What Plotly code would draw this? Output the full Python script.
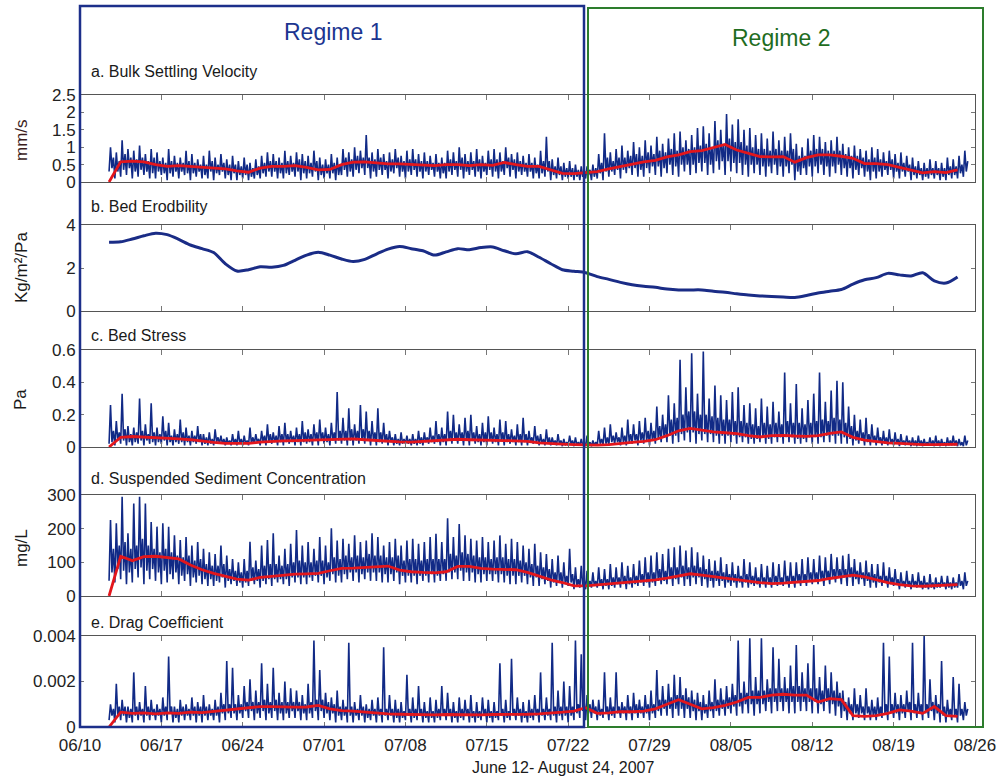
import pandas as pd
import plotly.graph_objects as go

W, H = 1001, 776

# Sampling: 3-hourly records from 2007-06-12 12:00, daily running means
SAMPLE_START = "2007-06-12 12:00"

# a. Bulk settling velocity (mm/s), 8 samples per day
settling_velocity = [
    0.3, 1.0, 0.4, 0.7, 0.1, 0.85, 0.3, 0.6,   0.15, 1.2, 0.35, 0.8, 0.2, 0.95, 0.4, 0.7,
    0.1, 0.9, 0.3, 0.65, 0.15, 1.05, 0.35, 0.7,   0.2, 0.8, 0.3, 0.6, 0.1, 0.95, 0.25, 0.7,
    0.1, 0.85, 0.3, 0.6, 0.2, 0.7, 0.25, 0.55,   0.05, 0.95, 0.25, 0.6, 0.15, 0.75, 0.3, 0.55,
    0.1, 0.7, 0.3, 0.55, 0.2, 0.9, 0.25, 0.6,   0.05, 0.8, 0.25, 0.55, 0.15, 0.65, 0.3, 0.5,
    0.1, 0.75, 0.2, 0.5, 0.1, 0.9, 0.3, 0.6,   0.05, 0.7, 0.25, 0.5, 0.2, 0.8, 0.3, 0.55,
    0.1, 0.65, 0.2, 0.5, 0.05, 0.75, 0.25, 0.5,   0.05, 0.6, 0.2, 0.45, 0.1, 0.7, 0.2, 0.5,
    0.05, 0.55, 0.15, 0.4, 0.1, 0.65, 0.2, 0.45,   0.1, 0.75, 0.25, 0.55, 0.15, 0.85, 0.3, 0.6,
    0.15, 0.8, 0.3, 0.6, 0.1, 0.7, 0.25, 0.55,   0.1, 0.9, 0.25, 0.6, 0.2, 0.75, 0.3, 0.55,
    0.15, 0.85, 0.3, 0.65, 0.05, 0.8, 0.25, 0.6,   0.1, 0.75, 0.25, 0.55, 0.15, 0.9, 0.3, 0.6,
    0.05, 0.7, 0.2, 0.5, 0.1, 0.65, 0.25, 0.5,   0.1, 0.8, 0.25, 0.55, 0.05, 0.7, 0.2, 0.5,
    0.2, 0.95, 0.35, 0.7, 0.15, 0.85, 0.3, 0.65,   0.15, 1.0, 0.35, 0.75, 0.25, 0.9, 0.4, 0.7,
    0.2, 1.35, 0.4, 0.7, 0.1, 0.85, 0.3, 0.65,   0.15, 0.95, 0.35, 0.7, 0.2, 0.8, 0.35, 0.6,
    0.1, 0.85, 0.3, 0.65, 0.25, 0.95, 0.4, 0.7,   0.15, 0.75, 0.3, 0.6, 0.1, 0.9, 0.3, 0.65,
    0.2, 0.95, 0.35, 0.65, 0.15, 0.8, 0.3, 0.6,   0.1, 0.85, 0.3, 0.6, 0.2, 0.75, 0.35, 0.55,
    0.15, 0.8, 0.3, 0.55, 0.1, 0.7, 0.25, 0.55,   0.1, 0.9, 0.3, 0.65, 0.2, 0.85, 0.35, 0.6,
    0.15, 1.0, 0.35, 0.7, 0.1, 0.8, 0.3, 0.6,   0.2, 0.85, 0.35, 0.6, 0.15, 0.95, 0.3, 0.65,
    0.1, 0.75, 0.3, 0.55, 0.2, 0.9, 0.35, 0.65,   0.15, 0.95, 0.3, 0.65, 0.1, 0.85, 0.3, 0.6,
    0.2, 1.0, 0.4, 0.7, 0.15, 0.8, 0.35, 0.65,   0.1, 0.85, 0.3, 0.6, 0.2, 0.75, 0.3, 0.55,
    0.15, 0.8, 0.3, 0.55, 0.1, 0.7, 0.25, 0.5,   0.1, 0.9, 0.25, 0.6, 0.15, 1.3, 0.3, 0.6,
    0.05, 0.65, 0.2, 0.45, 0.1, 0.7, 0.2, 0.45,   0.05, 0.55, 0.15, 0.4, 0.1, 0.6, 0.15, 0.4,
    0.05, 0.5, 0.15, 0.35, 0.05, 0.45, 0.15, 0.35,   0.1, 0.45, 0.2, 0.35, 0.05, 0.5, 0.15, 0.4,
    0.1, 0.8, 0.25, 0.55, 0.05, 1.4, 0.3, 0.7,   0.15, 0.85, 0.3, 0.6, 0.2, 0.95, 0.35, 0.7,
    0.1, 1.05, 0.35, 0.7, 0.25, 0.9, 0.4, 0.75,   0.2, 1.15, 0.4, 0.8, 0.15, 1.0, 0.35, 0.75,
    0.15, 1.2, 0.4, 0.85, 0.25, 1.05, 0.45, 0.8,   0.2, 1.3, 0.45, 0.9, 0.15, 1.1, 0.4, 0.85,
    0.25, 1.25, 0.5, 0.95, 0.2, 1.4, 0.45, 0.9,   0.15, 1.45, 0.5, 1.0, 0.3, 1.2, 0.5, 0.95,
    0.2, 1.35, 0.5, 1.0, 0.25, 1.55, 0.55, 1.05,   0.3, 1.6, 0.55, 1.1, 0.2, 1.4, 0.5, 1.0,
    0.25, 1.75, 0.6, 1.2, 0.35, 1.5, 0.6, 1.1,   0.2, 1.95, 0.6, 1.25, 0.3, 1.65, 0.55, 1.15,
    0.25, 1.8, 0.55, 1.15, 0.2, 1.5, 0.5, 1.05,   0.15, 1.55, 0.5, 1.0, 0.25, 1.35, 0.5, 0.95,
    0.2, 1.4, 0.45, 0.95, 0.15, 1.25, 0.45, 0.9,   0.25, 1.45, 0.5, 0.95, 0.2, 1.2, 0.45, 0.9,
    0.15, 1.3, 0.45, 0.9, 0.25, 1.4, 0.5, 0.95,   0.05, 1.1, 0.3, 0.75, 0.2, 1.0, 0.4, 0.75,
    0.2, 1.25, 0.45, 0.9, 0.15, 1.35, 0.45, 0.95,   0.25, 1.3, 0.5, 0.95, 0.2, 1.15, 0.45, 0.9,
    0.15, 1.2, 0.45, 0.9, 0.25, 1.3, 0.5, 0.9,   0.2, 1.1, 0.4, 0.8, 0.15, 1.0, 0.4, 0.75,
    0.1, 1.05, 0.35, 0.75, 0.2, 0.95, 0.4, 0.7,   0.15, 0.9, 0.3, 0.65, 0.05, 1.0, 0.3, 0.7,
    0.1, 0.95, 0.3, 0.65, 0.15, 0.85, 0.35, 0.6,   0.2, 0.9, 0.35, 0.65, 0.1, 0.8, 0.3, 0.55,
    0.1, 0.85, 0.3, 0.55, 0.15, 0.75, 0.3, 0.5,   0.05, 0.7, 0.2, 0.45, 0.1, 0.6, 0.2, 0.4,
    0.05, 0.55, 0.15, 0.4, 0.1, 0.65, 0.2, 0.4,   0.1, 0.6, 0.2, 0.4, 0.05, 0.55, 0.15, 0.4,
    0.05, 0.7, 0.2, 0.45, 0.1, 0.65, 0.2, 0.45,   0.1, 0.75, 0.25, 0.5, 0.15, 0.9, 0.3, 0.6,
]
settling_velocity_mean = [
    0.00, 0.58, 0.60, 0.58, 0.50, 0.45, 0.47, 0.45, 0.42, 0.40, 0.38, 0.32, 0.28, 0.40, 0.45, 0.45,
    0.47, 0.42, 0.35, 0.36, 0.50, 0.57, 0.58, 0.55, 0.52, 0.52, 0.50, 0.50, 0.47, 0.50, 0.50, 0.47,
    0.50, 0.48, 0.56, 0.50, 0.45, 0.45, 0.35, 0.25, 0.24, 0.27, 0.30, 0.38, 0.45, 0.52, 0.58, 0.62,
    0.72, 0.78, 0.87, 0.90, 1.00, 1.08, 0.92, 0.83, 0.73, 0.72, 0.73, 0.57, 0.70, 0.78, 0.78, 0.74,
    0.68, 0.53, 0.53, 0.50, 0.42, 0.33, 0.26, 0.30, 0.27, 0.35,
]

# b. Bed erodibility (kg/m2/Pa), daily
bed_erodibility = [
    3.20, 3.22, 3.35, 3.50, 3.62, 3.55, 3.33, 3.07, 2.90, 2.72, 2.20, 1.86, 1.92, 2.06, 2.04, 2.12,
    2.36, 2.60, 2.73, 2.60, 2.42, 2.30, 2.40, 2.65, 2.88, 3.00, 2.90, 2.80, 2.60, 2.75, 2.90, 2.85,
    2.95, 2.98, 2.80, 2.66, 2.76, 2.50, 2.20, 1.92, 1.85, 1.78, 1.60, 1.47, 1.33, 1.22, 1.15, 1.10,
    1.02, 0.98, 0.98, 0.98, 0.92, 0.87, 0.80, 0.74, 0.70, 0.68, 0.65, 0.63, 0.72, 0.84, 0.92, 1.00,
    1.25, 1.45, 1.55, 1.75, 1.68, 1.63, 1.78, 1.40, 1.30, 1.58,
]

# c. Bed stress (Pa), 8 samples per day
bed_stress = [
    0.02, 0.26, 0.03, 0.10, 0.01, 0.16, 0.04, 0.09,   0.02, 0.33, 0.04, 0.11, 0.01, 0.13, 0.03, 0.08,
    0.01, 0.12, 0.03, 0.09, 0.02, 0.30, 0.04, 0.10,   0.01, 0.14, 0.04, 0.08, 0.02, 0.27, 0.03, 0.09,
    0.01, 0.12, 0.03, 0.08, 0.02, 0.19, 0.04, 0.10,   0.01, 0.15, 0.03, 0.07, 0.01, 0.11, 0.03, 0.08,
    0.02, 0.17, 0.03, 0.09, 0.01, 0.12, 0.03, 0.07,   0.01, 0.10, 0.03, 0.07, 0.02, 0.13, 0.03, 0.08,
    0.01, 0.08, 0.02, 0.06, 0.01, 0.09, 0.02, 0.05,   0.01, 0.11, 0.03, 0.06, 0.02, 0.07, 0.02, 0.05,
    0.01, 0.06, 0.02, 0.04, 0.01, 0.08, 0.02, 0.05,   0.01, 0.10, 0.02, 0.05, 0.01, 0.07, 0.02, 0.04,
    0.01, 0.12, 0.02, 0.06, 0.02, 0.08, 0.03, 0.05,   0.01, 0.10, 0.03, 0.07, 0.01, 0.14, 0.03, 0.08,
    0.02, 0.09, 0.03, 0.07, 0.01, 0.13, 0.03, 0.08,   0.01, 0.15, 0.03, 0.08, 0.02, 0.10, 0.03, 0.07,
    0.01, 0.12, 0.03, 0.08, 0.01, 0.16, 0.03, 0.09,   0.02, 0.11, 0.03, 0.08, 0.01, 0.14, 0.04, 0.09,
    0.01, 0.17, 0.04, 0.09, 0.02, 0.12, 0.03, 0.08,   0.01, 0.15, 0.04, 0.09, 0.02, 0.34, 0.04, 0.10,
    0.02, 0.18, 0.04, 0.10, 0.01, 0.24, 0.04, 0.11,   0.01, 0.14, 0.04, 0.10, 0.02, 0.26, 0.04, 0.11,
    0.02, 0.22, 0.04, 0.10, 0.01, 0.16, 0.04, 0.09,   0.01, 0.24, 0.03, 0.09, 0.02, 0.15, 0.03, 0.08,
    0.01, 0.10, 0.03, 0.06, 0.01, 0.08, 0.02, 0.05,   0.01, 0.09, 0.02, 0.05, 0.02, 0.07, 0.02, 0.05,
    0.01, 0.08, 0.02, 0.05, 0.01, 0.10, 0.02, 0.06,   0.01, 0.09, 0.03, 0.06, 0.02, 0.12, 0.03, 0.07,
    0.02, 0.16, 0.03, 0.08, 0.01, 0.12, 0.03, 0.08,   0.01, 0.22, 0.04, 0.10, 0.02, 0.20, 0.04, 0.09,
    0.02, 0.14, 0.04, 0.09, 0.01, 0.18, 0.04, 0.10,   0.01, 0.20, 0.04, 0.09, 0.02, 0.13, 0.03, 0.08,
    0.01, 0.15, 0.03, 0.09, 0.01, 0.19, 0.04, 0.09,   0.02, 0.12, 0.03, 0.08, 0.01, 0.17, 0.04, 0.09,
    0.01, 0.16, 0.03, 0.08, 0.02, 0.11, 0.03, 0.07,   0.01, 0.14, 0.03, 0.08, 0.01, 0.18, 0.03, 0.08,
    0.01, 0.10, 0.03, 0.06, 0.02, 0.13, 0.03, 0.07,   0.01, 0.08, 0.02, 0.05, 0.01, 0.11, 0.02, 0.06,
    0.01, 0.06, 0.02, 0.04, 0.01, 0.08, 0.02, 0.04,   0.005, 0.05, 0.01, 0.03, 0.01, 0.07, 0.02, 0.04,
    0.005, 0.06, 0.01, 0.03, 0.01, 0.05, 0.01, 0.03,   0.005, 0.07, 0.01, 0.03, 0.005, 0.04, 0.01, 0.03,
    0.01, 0.10, 0.02, 0.05, 0.01, 0.12, 0.02, 0.06,   0.01, 0.14, 0.03, 0.07, 0.02, 0.09, 0.03, 0.06,
    0.01, 0.12, 0.03, 0.07, 0.01, 0.17, 0.03, 0.08,   0.02, 0.14, 0.04, 0.08, 0.01, 0.16, 0.04, 0.09,
    0.02, 0.18, 0.04, 0.10, 0.01, 0.15, 0.04, 0.10,   0.02, 0.25, 0.05, 0.13, 0.03, 0.20, 0.06, 0.14,
    0.03, 0.32, 0.07, 0.17, 0.02, 0.27, 0.07, 0.18,   0.03, 0.54, 0.08, 0.20, 0.04, 0.37, 0.09, 0.22,
    0.03, 0.58, 0.09, 0.22, 0.02, 0.33, 0.08, 0.20,   0.04, 0.59, 0.08, 0.20, 0.03, 0.30, 0.08, 0.19,
    0.03, 0.38, 0.07, 0.18, 0.02, 0.32, 0.07, 0.17,   0.02, 0.29, 0.07, 0.17, 0.03, 0.34, 0.07, 0.16,
    0.02, 0.37, 0.06, 0.16, 0.03, 0.26, 0.06, 0.15,   0.02, 0.27, 0.05, 0.14, 0.02, 0.24, 0.05, 0.13,
    0.03, 0.30, 0.06, 0.15, 0.02, 0.25, 0.05, 0.14,   0.02, 0.28, 0.06, 0.15, 0.03, 0.22, 0.06, 0.14,
    0.02, 0.46, 0.06, 0.16, 0.03, 0.27, 0.06, 0.15,   0.02, 0.39, 0.05, 0.15, 0.02, 0.24, 0.05, 0.14,
    0.03, 0.29, 0.06, 0.15, 0.02, 0.33, 0.06, 0.16,   0.02, 0.46, 0.06, 0.17, 0.03, 0.28, 0.07, 0.16,
    0.03, 0.35, 0.07, 0.18, 0.02, 0.41, 0.07, 0.17,   0.02, 0.40, 0.06, 0.15, 0.02, 0.25, 0.05, 0.13,
    0.01, 0.20, 0.04, 0.10, 0.02, 0.17, 0.04, 0.09,   0.01, 0.18, 0.03, 0.08, 0.01, 0.14, 0.03, 0.07,
    0.01, 0.12, 0.03, 0.06, 0.01, 0.10, 0.02, 0.06,   0.01, 0.11, 0.02, 0.05, 0.01, 0.09, 0.02, 0.05,
    0.005, 0.08, 0.02, 0.04, 0.01, 0.07, 0.02, 0.04,   0.005, 0.06, 0.01, 0.04, 0.005, 0.07, 0.01, 0.04,
    0.005, 0.05, 0.01, 0.03, 0.01, 0.06, 0.01, 0.04,   0.005, 0.07, 0.01, 0.04, 0.005, 0.05, 0.01, 0.03,
    0.005, 0.06, 0.01, 0.04, 0.01, 0.07, 0.01, 0.04,   0.005, 0.05, 0.01, 0.03, 0.005, 0.07, 0.01, 0.04,
]
bed_stress_mean = [
    0.000, 0.060, 0.065, 0.062, 0.058, 0.055, 0.050, 0.045, 0.035, 0.028, 0.022, 0.020, 0.022, 0.030,
    0.035, 0.038, 0.040, 0.042, 0.045, 0.050, 0.052, 0.050, 0.045, 0.040, 0.035, 0.032, 0.030, 0.035,
    0.040, 0.045, 0.048, 0.045, 0.042, 0.040, 0.040, 0.038, 0.035, 0.025, 0.020, 0.018, 0.015, 0.012,
    0.012, 0.015, 0.020, 0.028, 0.035, 0.045, 0.070, 0.100, 0.115, 0.105, 0.093, 0.088, 0.083, 0.070,
    0.062, 0.070, 0.072, 0.068, 0.066, 0.070, 0.085, 0.093, 0.060, 0.042, 0.032, 0.026, 0.022, 0.018,
    0.015, 0.015, 0.016, 0.017,
]

# d. Suspended sediment concentration (mg/L), 8 samples per day
ssc = [
    45, 226, 70, 140, 40, 216, 80, 150,   50, 295, 75, 160, 35, 186, 70, 140,
    40, 275, 80, 150, 55, 295, 85, 170,   35, 275, 75, 150, 50, 220, 80, 140,
    45, 206, 70, 130, 35, 216, 75, 140,   40, 206, 65, 130, 50, 180, 70, 120,
    35, 166, 60, 115, 45, 175, 65, 120,   30, 150, 55, 105, 40, 160, 60, 110,
    35, 140, 50, 95, 30, 130, 50, 90,   30, 125, 45, 90, 40, 150, 55, 95,
    25, 120, 45, 80, 35, 110, 45, 75,   30, 100, 40, 70, 25, 110, 40, 75,
    30, 161, 45, 85, 35, 105, 45, 80,   25, 150, 45, 90, 35, 166, 50, 95,
    30, 186, 50, 95, 40, 120, 50, 90,   35, 140, 50, 95, 30, 155, 55, 100,
    40, 196, 55, 105, 35, 150, 55, 100,   35, 160, 55, 100, 45, 140, 60, 105,
    40, 175, 60, 105, 35, 150, 55, 100,   45, 201, 65, 115, 40, 165, 60, 110,
    40, 170, 65, 120, 50, 155, 70, 115,   45, 180, 70, 120, 40, 160, 65, 115,
    50, 165, 70, 125, 45, 186, 70, 120,   45, 175, 70, 120, 40, 150, 65, 115,
    40, 160, 65, 115, 45, 170, 70, 120,   35, 150, 60, 105, 40, 165, 60, 110,
    40, 170, 60, 110, 35, 155, 60, 105,   45, 160, 60, 110, 40, 175, 65, 110,
    40, 185, 60, 110, 45, 160, 65, 110,   45, 231, 70, 125, 50, 175, 70, 120,
    50, 214, 75, 130, 45, 180, 70, 125,   45, 170, 70, 120, 40, 165, 65, 115,
    40, 175, 65, 115, 45, 160, 65, 110,   45, 165, 65, 115, 40, 180, 65, 115,
    40, 155, 60, 110, 35, 170, 60, 110,   35, 160, 60, 105, 40, 150, 60, 100,
    35, 140, 55, 95, 30, 155, 55, 90,   30, 130, 50, 85, 35, 125, 45, 80,
    25, 110, 40, 70, 30, 120, 40, 70,   25, 100, 35, 60, 30, 140, 40, 65,
    20, 85, 30, 50, 25, 90, 30, 50,   20, 75, 30, 45, 25, 70, 30, 45,
    25, 85, 30, 50, 20, 80, 30, 50,   20, 95, 30, 55, 25, 85, 35, 55,
    25, 100, 35, 60, 20, 90, 35, 55,   25, 95, 35, 60, 30, 105, 40, 65,
    30, 115, 40, 70, 25, 120, 40, 70,   30, 130, 45, 80, 35, 125, 45, 75,
    35, 140, 50, 85, 30, 145, 50, 85,   35, 150, 55, 90, 30, 135, 50, 85,
    30, 145, 55, 90, 35, 130, 55, 85,   30, 120, 50, 80, 25, 110, 45, 75,
    25, 105, 45, 75, 30, 115, 45, 70,   25, 95, 40, 65, 30, 100, 40, 65,
    25, 90, 40, 60, 25, 110, 40, 65,   25, 100, 35, 60, 30, 85, 35, 55,
    25, 95, 35, 55, 25, 90, 35, 55,   25, 100, 35, 60, 30, 95, 35, 55,
    30, 105, 40, 60, 25, 100, 40, 60,   25, 100, 40, 65, 30, 110, 40, 65,
    30, 115, 45, 70, 35, 110, 45, 70,   35, 120, 50, 75, 30, 115, 50, 75,
    35, 125, 55, 80, 40, 115, 55, 80,   35, 120, 55, 80, 30, 125, 55, 85,
    30, 110, 50, 75, 35, 100, 50, 70,   30, 105, 45, 70, 25, 95, 40, 65,
    25, 95, 40, 60, 30, 100, 40, 60,   25, 85, 35, 55, 30, 80, 35, 50,
    20, 70, 30, 45, 25, 75, 30, 45,   20, 65, 30, 45, 25, 70, 30, 45,
    20, 60, 25, 40, 20, 65, 25, 40,   20, 55, 25, 40, 25, 60, 30, 40,
    20, 60, 25, 40, 20, 55, 25, 40,   25, 65, 30, 45, 20, 70, 30, 45,
]
ssc_mean = [
    0, 118, 105, 117, 118, 115, 110, 92, 78, 67, 58, 50, 47, 55, 58, 62,
    65, 66, 67, 75, 82, 83, 85, 88, 89, 77, 72, 70, 69, 72, 88, 88,
    82, 80, 79, 78, 70, 58, 48, 40, 30, 30, 33, 35, 37, 40, 43, 48,
    53, 60, 66, 62, 57, 52, 48, 44, 40, 37, 38, 40, 42, 46, 52, 57,
    62, 57, 48, 40, 34, 30, 29, 30, 32, 34,
]

# e. Drag coefficient, 8 samples per day
drag_coefficient = [
    0.0003, 0.0010, 0.0005, 0.0008, 0.0002, 0.0019, 0.0005, 0.0009,
    0.0003, 0.0012, 0.0005, 0.0009, 0.0002, 0.0009, 0.0004, 0.0008,
    0.0002, 0.0024, 0.0005, 0.0009, 0.0003, 0.0011, 0.0005, 0.0008,
    0.0002, 0.0018, 0.0005, 0.0009, 0.0003, 0.0012, 0.0005, 0.0008,
    0.0003, 0.0010, 0.0005, 0.0008, 0.0002, 0.0013, 0.0005, 0.0009,
    0.0003, 0.0031, 0.0006, 0.0009, 0.0002, 0.0009, 0.0004, 0.0008,
    0.0002, 0.0012, 0.0005, 0.0009, 0.0003, 0.0010, 0.0005, 0.0008,
    0.0003, 0.0013, 0.0005, 0.0009, 0.0002, 0.0011, 0.0005, 0.0009,
    0.0002, 0.0014, 0.0005, 0.0009, 0.0003, 0.0010, 0.0005, 0.0008,
    0.0003, 0.0012, 0.0005, 0.0009, 0.0002, 0.0015, 0.0006, 0.0010,
    0.0003, 0.0029, 0.0006, 0.0010, 0.0004, 0.0026, 0.0006, 0.0010,
    0.0003, 0.0014, 0.0006, 0.0010, 0.0004, 0.0018, 0.0007, 0.0011,
    0.0004, 0.0021, 0.0007, 0.0011, 0.0003, 0.0016, 0.0006, 0.0011,
    0.0004, 0.0028, 0.0007, 0.0012, 0.0003, 0.0019, 0.0006, 0.0011,
    0.0004, 0.0026, 0.0007, 0.0012, 0.0003, 0.0015, 0.0006, 0.0011,
    0.0003, 0.0020, 0.0006, 0.0011, 0.0004, 0.0017, 0.0007, 0.0011,
    0.0004, 0.0016, 0.0007, 0.0011, 0.0003, 0.0014, 0.0006, 0.0010,
    0.0003, 0.0019, 0.0006, 0.0011, 0.0004, 0.0038, 0.0007, 0.0012,
    0.0003, 0.0025, 0.0007, 0.0012, 0.0004, 0.0015, 0.0006, 0.0011,
    0.0003, 0.0013, 0.0006, 0.0010, 0.0002, 0.0016, 0.0005, 0.0009,
    0.0003, 0.0012, 0.0005, 0.0009, 0.0002, 0.0037, 0.0005, 0.0009,
    0.0002, 0.0011, 0.0005, 0.0008, 0.0003, 0.0014, 0.0005, 0.0009,
    0.0002, 0.0010, 0.0004, 0.0008, 0.0003, 0.0012, 0.0005, 0.0008,
    0.0002, 0.0013, 0.0005, 0.0008, 0.0002, 0.0035, 0.0005, 0.0008,
    0.0003, 0.0014, 0.0005, 0.0008, 0.0002, 0.0012, 0.0004, 0.0008,
    0.0002, 0.0011, 0.0004, 0.0007, 0.0003, 0.0023, 0.0005, 0.0008,
    0.0002, 0.0013, 0.0004, 0.0008, 0.0003, 0.0018, 0.0005, 0.0008,
    0.0002, 0.0011, 0.0004, 0.0007, 0.0002, 0.0013, 0.0004, 0.0007,
    0.0002, 0.0012, 0.0004, 0.0008, 0.0003, 0.0018, 0.0005, 0.0008,
    0.0003, 0.0015, 0.0005, 0.0008, 0.0002, 0.0011, 0.0004, 0.0007,
    0.0002, 0.0013, 0.0004, 0.0008, 0.0003, 0.0012, 0.0005, 0.0008,
    0.0002, 0.0014, 0.0004, 0.0007, 0.0002, 0.0011, 0.0004, 0.0007,
    0.0003, 0.0013, 0.0005, 0.0008, 0.0002, 0.0012, 0.0004, 0.0007,
    0.0002, 0.0011, 0.0004, 0.0007, 0.0003, 0.0028, 0.0005, 0.0008,
    0.0002, 0.0012, 0.0004, 0.0007, 0.0003, 0.0030, 0.0005, 0.0008,
    0.0003, 0.0013, 0.0005, 0.0008, 0.0002, 0.0011, 0.0004, 0.0007,
    0.0002, 0.0012, 0.0004, 0.0008, 0.0003, 0.0014, 0.0005, 0.0008,
    0.0002, 0.0024, 0.0005, 0.0008, 0.0003, 0.0013, 0.0005, 0.0008,
    0.0003, 0.0037, 0.0005, 0.0009, 0.0002, 0.0016, 0.0005, 0.0009,
    0.0003, 0.0020, 0.0005, 0.0009, 0.0002, 0.0018, 0.0005, 0.0009,
    0.0003, 0.0038, 0.0006, 0.0010, 0.0004, 0.0032, 0.0007, 0.0011,
    0.0003, 0.0014, 0.0006, 0.0010, 0.0004, 0.0012, 0.0006, 0.0009,
    0.0003, 0.0012, 0.0005, 0.0008, 0.0004, 0.0024, 0.0006, 0.0009,
    0.0003, 0.0013, 0.0005, 0.0009, 0.0004, 0.0024, 0.0006, 0.0009,
    0.0004, 0.0011, 0.0006, 0.0009, 0.0003, 0.0014, 0.0006, 0.0009,
    0.0003, 0.0015, 0.0006, 0.0010, 0.0004, 0.0012, 0.0006, 0.0009,
    0.0004, 0.0014, 0.0006, 0.0010, 0.0003, 0.0016, 0.0006, 0.0010,
    0.0004, 0.0025, 0.0007, 0.0012, 0.0005, 0.0018, 0.0008, 0.0012,
    0.0005, 0.0019, 0.0008, 0.0013, 0.0004, 0.0023, 0.0008, 0.0014,
    0.0005, 0.0022, 0.0008, 0.0014, 0.0004, 0.0017, 0.0008, 0.0013,
    0.0004, 0.0016, 0.0007, 0.0012, 0.0003, 0.0015, 0.0007, 0.0011,
    0.0003, 0.0014, 0.0006, 0.0010, 0.0004, 0.0016, 0.0007, 0.0011,
    0.0004, 0.0021, 0.0007, 0.0012, 0.0005, 0.0017, 0.0008, 0.0012,
    0.0005, 0.0018, 0.0008, 0.0013, 0.0006, 0.0019, 0.0009, 0.0014,
    0.0005, 0.0038, 0.0009, 0.0015, 0.0006, 0.0020, 0.0010, 0.0015,
    0.0006, 0.0039, 0.0010, 0.0016, 0.0005, 0.0022, 0.0010, 0.0016,
    0.0006, 0.0039, 0.0010, 0.0016, 0.0007, 0.0021, 0.0011, 0.0017,
    0.0006, 0.0035, 0.0011, 0.0017, 0.0007, 0.0030, 0.0011, 0.0017,
    0.0007, 0.0022, 0.0011, 0.0017, 0.0006, 0.0027, 0.0011, 0.0018,
    0.0006, 0.0036, 0.0011, 0.0018, 0.0007, 0.0024, 0.0011, 0.0017,
    0.0007, 0.0028, 0.0011, 0.0017, 0.0006, 0.0036, 0.0011, 0.0017,
    0.0006, 0.0022, 0.0010, 0.0016, 0.0007, 0.0027, 0.0011, 0.0017,
    0.0006, 0.0024, 0.0010, 0.0016, 0.0005, 0.0020, 0.0009, 0.0015,
    0.0004, 0.0016, 0.0007, 0.0011, 0.0003, 0.0013, 0.0006, 0.0010,
    0.0003, 0.0017, 0.0006, 0.0010, 0.0004, 0.0014, 0.0006, 0.0009,
    0.0003, 0.0017, 0.0006, 0.0009, 0.0003, 0.0012, 0.0005, 0.0009,
    0.0003, 0.0013, 0.0005, 0.0009, 0.0004, 0.0037, 0.0006, 0.0010,
    0.0003, 0.0031, 0.0006, 0.0010, 0.0004, 0.0015, 0.0006, 0.0010,
    0.0003, 0.0014, 0.0006, 0.0010, 0.0004, 0.0016, 0.0007, 0.0011,
    0.0003, 0.0037, 0.0006, 0.0010, 0.0004, 0.0015, 0.0006, 0.0010,
    0.0003, 0.0040, 0.0006, 0.0010, 0.0004, 0.0021, 0.0007, 0.0011,
    0.0003, 0.0014, 0.0006, 0.0010, 0.0002, 0.0029, 0.0005, 0.0009,
    0.0002, 0.0012, 0.0005, 0.0008, 0.0003, 0.0022, 0.0005, 0.0008,
    0.0002, 0.0019, 0.0005, 0.0008, 0.0003, 0.0011, 0.0005, 0.0008,
]
drag_coefficient_mean = [
    0.0, 0.00065, 0.00060, 0.00062, 0.00058, 0.00062, 0.00060, 0.00065, 0.00063, 0.00068, 0.00075,
    0.00080, 0.00085, 0.00090, 0.00090, 0.00088, 0.00087, 0.00088, 0.00095, 0.00080, 0.00072, 0.00070,
    0.00065, 0.00060, 0.00058, 0.00056, 0.00055, 0.00052, 0.00053, 0.00055, 0.00054, 0.00052, 0.00053,
    0.00055, 0.00055, 0.00054, 0.00056, 0.00058, 0.00060, 0.00065, 0.00070, 0.00085, 0.00060, 0.00062,
    0.00068, 0.00067, 0.00070, 0.00080, 0.00100, 0.00120, 0.00100, 0.00080, 0.00085, 0.00095, 0.00110,
    0.00130, 0.00130, 0.00140, 0.00144, 0.00140, 0.00140, 0.00110, 0.00125, 0.00120, 0.00050, 0.00047,
    0.00050, 0.00060, 0.00075, 0.00070, 0.00060, 0.00090, 0.00050, 0.00047,
]

date_ticks = ["2007-06-10", "2007-06-17", "2007-06-24", "2007-07-01", "2007-07-08", "2007-07-15",
              "2007-07-22", "2007-07-29", "2007-08-05", "2007-08-12", "2007-08-19", "2007-08-26"]
date_tick_labels = ["06/10", "06/17", "06/24", "07/01", "07/08", "07/15",
                    "07/22", "07/29", "08/05", "08/12", "08/19", "08/26"]

panel_titles = ["a. Bulk Settling Velocity", "b. Bed Erodbility", "c. Bed Stress",
                "d. Suspended Sediment Concentration", "e. Drag Coefficient"]
y_titles = ["mm/s", "Kg/m²/Pa", "Pa", "mg/L", ""]
y_tick_values = [[0, 0.5, 1, 1.5, 2, 2.5], [0, 2, 4], [0, 0.2, 0.4, 0.6], [0, 100, 200, 300],
                 [0, 0.002, 0.004]]
y_tick_labels = [["0", "0.5", "1", "1.5", "2", "2.5"], ["0", "2", "4"], ["0", "0.2", "0.4", "0.6"],
                 ["0", "100", "200", "300"], ["0", "0.002", "0.004"]]
y_ranges = [[0, 2.5], [0, 4], [0, 0.6], [0, 300], [0, 0.004]]

# pixel geometry of the five panels (top, bottom) and shared left/right edges
PANEL_PX = [(95, 182), (225, 311), (350, 447), (495, 596), (636, 727)]
TITLE_PX = [71, 207, 335, 478, 622]
YTITLE_PX = [140, 268, 400, 548, None]
X_LEFT, X_RIGHT = 80, 975

NAVY = "#112a86"
RED = "#e3161c"
FONT = "Liberation Sans, Arial, Helvetica, sans-serif"


def fx(px):
    return px / W


def fy(py):
    return 1 - py / H


def sample_times(values):
    return pd.date_range(SAMPLE_START, periods=len(values), freq="3h")


def daily_times(values):
    return pd.date_range(SAMPLE_START, periods=len(values), freq="D")


fig = go.Figure()

series = [
    (settling_velocity, settling_velocity_mean),
    (None, bed_erodibility),
    (bed_stress, bed_stress_mean),
    (ssc, ssc_mean),
    (drag_coefficient, drag_coefficient_mean),
]

for i, (raw, smooth) in enumerate(series):
    xa = "x" if i == 0 else f"x{i + 1}"
    ya = "y" if i == 0 else f"y{i + 1}"
    if raw is not None:
        fig.add_trace(go.Scatter(x=sample_times(raw), y=raw, mode="lines",
                                 line=dict(color=NAVY, width=1.6), xaxis=xa, yaxis=ya,
                                 showlegend=False, hoverinfo="skip"))
        fig.add_trace(go.Scatter(x=daily_times(smooth), y=smooth, mode="lines",
                                 line=dict(color=RED, width=2.8), xaxis=xa, yaxis=ya,
                                 showlegend=False, hoverinfo="skip"))
    else:
        fig.add_trace(go.Scatter(x=daily_times(smooth), y=smooth, mode="lines",
                                 line=dict(color="#1a2c86", width=3, shape="spline", smoothing=0.8),
                                 xaxis=xa, yaxis=ya, showlegend=False, hoverinfo="skip"))

layout = dict(
    width=W, height=H, margin=dict(l=0, r=0, t=0, b=0, autoexpand=False),
    paper_bgcolor="white", plot_bgcolor="white",
    font=dict(family=FONT, size=16, color="#1a1a1a"),
    showlegend=False,
)

for i, (top, bottom) in enumerate(PANEL_PX):
    suffix = "" if i == 0 else str(i + 1)
    last = i == len(PANEL_PX) - 1
    layout["xaxis" + suffix] = dict(
        domain=[fx(X_LEFT), fx(X_RIGHT)], anchor="y" + suffix,
        range=[date_ticks[0], date_ticks[-1]], type="date", automargin=False,
        tickvals=date_ticks, ticktext=date_tick_labels, showticklabels=last,
        ticks="inside", ticklen=5, tickcolor="#777", tickwidth=1, ticklabelstandoff=3,
        showline=True, linecolor="#555", linewidth=1, mirror="ticks",
        showgrid=False, zeroline=False,
        tickfont=dict(size=17, color="#222"),
    )
    layout["yaxis" + suffix] = dict(
        domain=[fy(bottom), fy(top)], anchor="x" + suffix, automargin=False,
        range=y_ranges[i], tickvals=y_tick_values[i], ticktext=y_tick_labels[i],
        ticks="inside", ticklen=4, tickcolor="#777", tickwidth=1,
        showline=True, linecolor="#555", linewidth=1, mirror="ticks",
        showgrid=False, zeroline=False,
        tickfont=dict(size=17, color="#222"),
    )

fig.update_layout(**layout)

annotations = []
for i, title in enumerate(panel_titles):
    annotations.append(dict(text=title, x=fx(89), y=fy(TITLE_PX[i]), xref="paper", yref="paper",
                            xanchor="left", yanchor="middle", showarrow=False,
                            font=dict(size=16, color="#1a1a1a")))
    if y_titles[i]:
        annotations.append(dict(text=y_titles[i], x=fx(21), y=fy(YTITLE_PX[i]), xref="paper",
                                yref="paper", xanchor="center", yanchor="middle", textangle=-90,
                                showarrow=False,
                                font=dict(size=17, color="#3a1c1c" if i == 0 else "#1a1a1a")))

annotations.append(dict(text="June 12- August 24, 2007", x=fx(563), y=fy(767), xref="paper",
                        yref="paper", xanchor="center", yanchor="middle", showarrow=False,
                        font=dict(size=16, color="#1a1a1a")))
annotations.append(dict(text="Regime 1", x=fx(333), y=fy(32), xref="paper", yref="paper",
                        xanchor="center", yanchor="middle", showarrow=False,
                        font=dict(size=23, color="#1c3590")))
annotations.append(dict(text="Regime 2", x=fx(781), y=fy(38), xref="paper", yref="paper",
                        xanchor="center", yanchor="middle", showarrow=False,
                        font=dict(size=23, color="#1f6d1f")))

shapes = [
    dict(type="rect", xref="paper", yref="paper", x0=fx(80), x1=fx(584), y0=fy(727), y1=fy(6),
         line=dict(color="#1c2f8a", width=2.5), fillcolor="rgba(0,0,0,0)", layer="above"),
    dict(type="rect", xref="paper", yref="paper", x0=fx(588), x1=fx(983), y0=fy(727), y1=fy(8),
         line=dict(color="#2d7d2d", width=2), fillcolor="rgba(0,0,0,0)", layer="above"),
]

fig.update_layout(annotations=annotations, shapes=shapes)

fig.write_html("out.html")
